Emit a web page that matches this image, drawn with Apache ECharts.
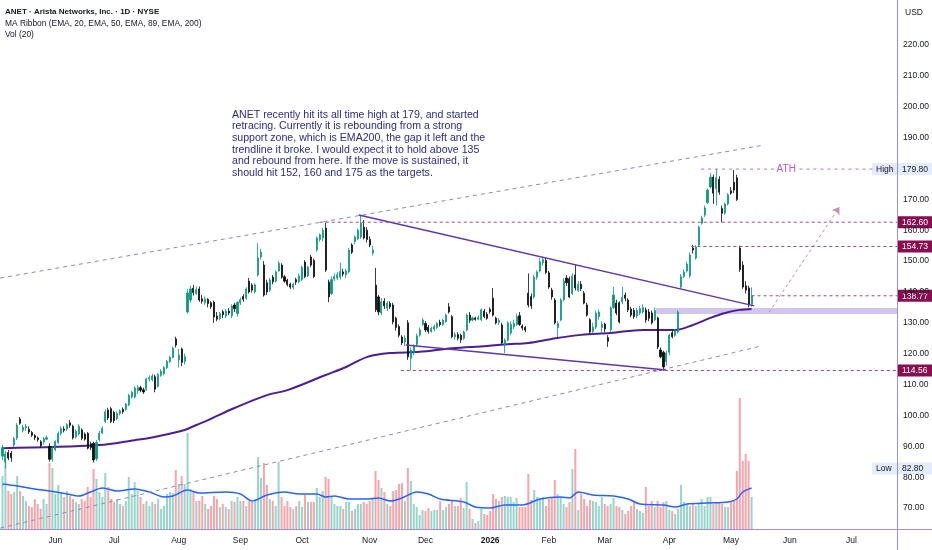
<!DOCTYPE html>
<html>
<head>
<meta charset="utf-8">
<style>
  html, body { margin: 0; padding: 0; background: #fff; }
  #main { width: 932px; height: 550px; }
</style>
</head>
<body>
<div id="main"></div>
<script src="https://cdn.jsdelivr.net/npm/echarts@6/dist/echarts.min.js"></script>
<script>
// ---- data ----
// daily candles from 2025-05-06, [open, close, low, high]
var candles = [
  [86.8,89.6,85.5,90.5],[85.0,87.5,82.8,88.5],[88.0,86.2,85.5,88.8],[87.8,86.3,85.0,88.5],[90.4,92.5,89.8,93.0],
  [92.7,96.8,92.0,97.5],[98.8,97.5,97.0,99.5],[95.2,96.2,94.5,97.0],[96.0,96.5,95.0,97.2],[95.5,94.6,94.0,96.5],
  [94.5,93.6,93.0,95.0],[93.5,92.8,92.0,94.0],[92.7,92.2,91.5,93.2],[91.5,90.2,89.5,92.0],[91.4,92.4,90.5,93.0],
  [92.3,92.8,92.0,93.5],[90.0,85.8,85.0,91.0],[85.8,89.3,85.0,90.0],[89.0,91.5,88.5,92.0],[91.2,94.2,90.8,94.8],
  [94.2,95.8,93.5,96.5],[95.6,95.2,94.5,96.5],[95.6,97.0,95.0,97.5],[97.6,96.8,96.0,98.5],[96.5,92.8,92.2,97.0],
  [93.0,94.8,92.5,95.5],[94.0,96.5,93.5,97.2],[95.3,92.6,92.0,95.8],[94.0,92.3,91.8,94.5],[94.2,89.4,89.0,94.6],
  [90.8,89.6,88.8,91.5],[91.0,85.6,84.8,91.5],[86.0,91.2,85.2,92.0],[92.2,94.2,91.5,95.0],[94.3,95.8,94.0,96.5],
  [98.0,101.2,97.5,102.0],[101.8,99.2,98.5,102.5],[102.2,98.0,97.5,102.8],[101.0,98.3,97.5,101.5],[99.0,100.6,98.5,101.3],
  [100.7,101.5,100.0,102.0],[102.0,101.2,100.5,102.6],[102.0,103.7,101.5,104.0],[103.4,106.5,103.0,107.0],[106.0,107.5,105.5,108.0],
  [106.0,108.9,105.5,109.5],[108.0,109.0,107.0,109.8],[109.0,108.2,107.5,109.6],[108.3,107.6,107.0,109.0],[108.5,111.8,108.0,112.3],
  [111.8,112.2,111.0,113.0],[111.6,112.8,111.0,113.5],[112.5,108.5,107.5,113.2],[109.5,113.2,109.0,113.7],[113.0,114.3,112.5,115.0],
  [113.5,115.5,113.0,116.0],[115.5,117.5,115.0,118.0],[117.5,118.8,117.0,119.3],[118.8,121.8,118.5,122.3],[124.8,122.8,122.0,125.5],
  [118.0,119.5,115.5,121.5],[121.5,117.2,116.0,122.0],[117.5,119.0,116.5,120.0],[133.5,139.7,133.0,141.0],[137.4,141.0,136.5,142.0],
  [141.2,139.8,138.8,142.3],[139.5,140.8,139.0,141.8],[141.0,137.4,136.8,141.8],[137.8,137.0,136.2,139.0],[136.5,137.8,135.8,138.5],
  [137.6,136.2,135.0,138.0],[136.5,135.2,134.5,137.0],[136.7,131.9,130.0,137.2],[132.2,131.2,130.5,133.5],[131.3,133.0,130.8,133.5],
  [133.6,132.6,131.5,134.2],[132.2,133.8,131.5,134.5],[133.8,133.2,132.5,134.8],[132.3,135.5,131.5,136.0],[135.8,134.6,133.5,136.5],
  [133.0,136.6,132.0,137.0],[136.5,137.5,135.8,138.2],[138.5,137.6,136.8,139.3],[138.0,141.0,137.5,141.5],[143.5,140.0,139.5,144.5],
  [142.2,140.6,139.8,142.8],[140.0,142.3,139.5,142.8],[145.5,151.0,145.0,155.8],[151.3,152.9,150.5,154.0],[148.7,139.0,138.5,150.0],
  [143.0,140.0,139.0,144.0],[140.6,143.9,140.0,144.5],[144.8,143.3,142.5,145.5],[143.5,146.5,143.0,147.0],[146.8,149.3,146.5,150.0],
  [148.7,144.8,144.3,149.3],[144.9,143.5,143.0,145.5],[143.8,142.4,141.8,144.3],[142.5,141.6,141.0,143.0],[141.5,142.5,140.8,143.0],
  [144.0,143.2,142.3,144.6],[143.3,145.2,142.8,146.0],[144.0,148.0,143.5,148.5],[149.7,145.0,144.5,150.3],[145.2,148.0,144.8,148.5],
  [151.3,148.7,148.0,152.0],[150.2,145.0,144.5,150.8],[153.6,157.5,153.0,158.0],[157.0,158.5,156.3,159.0],[157.5,160.0,156.5,160.8],
  [160.7,147.1,146.5,162.4],[143.2,138.4,136.7,144.0],[139.5,144.0,139.0,145.0],[144.2,145.0,143.5,146.0],[144.5,145.6,143.8,146.5],
  [144.8,146.6,144.0,149.5],[146.5,145.8,145.0,147.5],[145.6,146.8,144.5,147.5],[146.5,153.6,146.0,154.3],[155.2,152.9,152.3,155.8],
  [156.3,157.8,155.5,158.3],[157.2,160.0,156.8,160.5],[157.8,162.3,157.2,165.0],[161.0,157.5,157.0,163.3],[160.0,157.0,156.0,161.0],
  [157.0,155.2,154.5,158.0],[152.6,153.6,151.8,155.0],[142.2,134.2,133.5,147.8],[138.4,133.5,132.5,139.0],[133.2,136.8,132.5,138.0],
  [137.0,135.5,134.5,138.0],[134.8,136.4,133.8,137.0],[136.3,135.2,134.5,137.0],[135.8,130.3,129.5,136.5],[131.5,128.5,127.5,132.0],
  [128.8,126.0,125.3,129.5],[125.4,123.5,122.8,126.0],[123.8,125.0,122.5,126.0],[130.0,119.0,118.0,130.9],[118.5,121.2,114.56,122.0],
  [120.3,122.5,119.5,123.0],[123.0,125.8,122.5,126.5],[126.0,127.7,125.5,128.5],[129.5,130.9,129.0,131.5],[129.8,127.7,127.0,130.5],
  [128.6,127.2,126.5,129.3],[127.2,128.2,126.8,128.8],[128.0,128.8,127.2,129.5],[128.5,129.8,128.0,130.3],[130.2,129.4,128.8,131.0],
  [129.5,130.8,129.0,131.3],[130.4,132.5,130.0,133.0],[135.2,133.5,133.0,136.4],[132.0,125.5,125.0,132.5],[125.5,126.2,124.5,127.0],
  [126.2,125.0,124.3,127.0],[126.0,124.5,123.5,126.5],[125.0,127.0,124.5,127.5],[127.7,132.5,127.2,133.0],[132.5,130.8,130.0,133.5],
  [130.9,131.6,130.5,132.0],[131.6,131.1,130.7,132.0],[131.2,131.8,130.8,132.3],[131.0,134.2,130.5,134.7],[133.8,132.0,131.5,134.5],
  [132.8,131.5,131.0,133.5],[134.3,133.6,133.0,135.0],[138.0,132.5,132.0,141.3],[131.5,130.0,129.5,132.0],[130.2,130.8,129.3,131.5],
  [129.3,123.5,123.0,130.0],[122.8,124.4,120.2,125.0],[124.4,130.0,124.0,130.5],[126.7,129.5,126.0,130.5],[128.7,129.8,128.0,131.0],
  [129.5,132.0,129.0,133.0],[132.3,129.5,129.0,133.5],[129.0,128.3,127.5,129.5],[128.5,127.7,127.0,129.0],[139.6,135.8,135.0,146.0],
  [138.5,135.5,134.5,139.5],[138.4,144.8,137.8,145.5],[144.8,146.5,144.0,147.0],[146.8,149.8,146.3,151.0],[149.5,150.5,148.5,151.5],
  [150.2,146.3,145.8,151.0],[146.2,141.6,141.0,146.8],[140.6,138.4,137.5,141.3],[137.4,130.0,129.5,138.0],[128.5,129.8,125.4,130.5],
  [130.9,137.4,130.5,138.0],[137.5,143.5,137.0,144.5],[144.5,143.0,142.0,145.5],[144.3,138.4,138.0,145.0],[139.5,145.0,139.0,146.0],
  [145.5,141.3,140.5,148.7],[140.5,142.5,140.0,143.5],[142.5,141.0,140.3,143.5],[139.6,136.4,136.0,140.3],[135.8,132.5,132.0,136.5],
  [131.0,127.0,126.5,131.5],[127.2,128.6,126.5,130.0],[128.6,133.2,128.0,134.0],[132.0,133.5,131.0,134.3],[128.5,129.5,126.5,130.5],
  [129.6,128.0,127.0,130.0],[125.2,124.0,122.2,126.0],[127.7,134.8,127.0,135.3],[135.0,139.0,134.5,141.6],[136.4,133.2,132.5,137.5],
  [136.5,130.3,129.8,137.0],[136.8,138.2,136.0,141.6],[139.0,138.0,137.0,139.8],[137.4,134.2,133.5,138.0],[134.5,132.5,131.8,135.2],
  [134.0,132.0,131.3,134.8],[132.2,134.0,131.5,134.8],[133.2,134.6,132.5,135.5],[133.5,135.0,133.0,136.0],[134.2,130.9,130.0,135.0],
  [133.5,131.5,130.5,134.5],[133.2,130.0,129.5,134.0],[131.0,134.0,130.5,135.0],[131.6,122.2,121.5,132.0],[121.2,119.0,118.5,122.0],
  [120.5,115.7,114.6,121.0],[117.5,120.2,116.0,121.0],[120.5,126.0,119.5,126.5],[126.8,125.5,125.0,127.5],[126.0,127.5,125.5,128.0],
  [127.0,133.5,126.5,134.0],[141.6,145.0,141.0,145.8],[145.0,146.5,144.5,147.3],[146.8,149.0,146.3,149.8],[145.2,152.0,144.5,152.8],
  [154.2,153.6,152.5,155.3],[151.0,154.6,150.5,155.2],[155.2,161.0,154.7,161.5],[162.3,164.0,161.8,164.7],[164.9,167.2,164.3,168.0],
  [169.0,173.0,168.5,173.5],[174.0,177.2,173.5,178.5],[177.2,172.0,168.5,178.0],[173.5,177.0,168.0,179.8],[176.5,172.3,171.5,177.5],
  [167.0,165.5,162.6,168.0],[165.5,168.5,165.0,169.0],[168.5,171.5,168.0,172.0],[172.8,172.0,171.5,174.0],[175.5,173.0,172.0,179.5],
  [177.0,170.0,169.5,178.0],[154.2,147.3,146.5,155.0],[148.7,141.6,141.0,150.0],[142.0,140.6,139.5,143.5],[141.3,135.8,135.0,142.0],
  [136.0,138.77,135.2,141.5]
];

// daily volume, millions of shares
var volumes = [
  15.9,20.4,11.4,10.5,11.1,15.9,11.4,9.9,8.4,6.9,
  6.6,9.0,7.5,6.0,9.0,7.5,19.8,18.3,10.5,13.2,
  11.1,9.6,11.4,9.9,9.0,8.1,7.5,9.0,8.4,12.6,
  9.6,18.0,15.0,11.1,9.6,16.8,12.6,9.0,8.1,9.0,
  7.5,6.9,8.4,15.6,10.5,14.1,11.4,9.6,7.5,8.4,
  6.9,8.1,7.5,9.0,6.0,6.9,10.5,11.1,10.8,17.7,
  13.5,15.9,13.5,28.8,12.0,11.4,8.4,8.4,9.9,7.5,
  6.0,6.9,9.9,9.0,6.6,7.5,6.6,6.0,8.4,8.1,
  9.6,8.4,8.4,6.9,8.4,8.1,9.0,21.6,15.3,19.8,
  13.2,9.0,8.4,6.9,20.1,9.6,6.9,8.4,6.6,6.0,
  6.9,8.4,6.6,10.5,8.1,8.1,8.1,12.3,9.6,11.4,
  15.6,15.0,9.6,7.5,6.9,6.9,6.0,8.1,8.1,5.4,
  6.0,7.5,7.5,8.1,7.5,8.4,9.0,17.4,14.7,12.3,
  11.1,7.5,6.9,11.4,11.7,13.5,13.8,8.4,18.3,14.4,
  7.5,6.6,4.2,5.7,5.4,6.3,5.4,5.7,5.7,8.4,
  5.7,6.6,7.5,8.4,6.9,6.9,9.3,6.3,14.1,6.0,
  3.0,1.8,2.4,6.0,4.5,4.2,5.4,10.5,9.0,8.4,
  9.6,9.9,9.6,9.6,8.1,9.3,6.6,6.6,6.6,16.5,
  8.7,11.7,9.6,9.3,9.6,6.9,9.0,9.6,14.7,10.5,
  9.6,7.5,6.6,8.1,18.0,24.0,5.7,10.5,9.0,6.9,
  8.7,8.4,8.1,6.9,9.6,7.5,6.9,7.5,9.3,6.9,
  6.6,5.7,4.5,5.4,6.9,8.4,6.0,5.4,4.8,12.6,
  6.9,8.4,6.6,8.4,6.6,8.1,8.4,5.7,5.4,4.5,
  6.0,13.2,8.1,7.5,6.9,7.5,6.9,7.5,9.0,6.9,
  9.6,9.6,7.5,8.1,8.1,7.5,6.6,6.6,8.1,8.4,
  17.4,39.3,20.4,22.5,20.4,9.6
];

// EMA 200: [bar index, price]
var ema200 = [[0,89.4],[33,90.4],[45,92.0],[50,92.7],[58,94.3],[62,95.3],[66,96.9],[70,98.5],[79,102.4],
  [90,106.6],[97,108.2],[110,113.1],[117,115.7],[124,118.9],[132,120.2],[142,120.6],[153,121.8],[165,122.5],
  [172,123.1],[179,123.5],[187,124.8],[197,126.1],[207,126.7],[218,127.7],[229,127.7],[235,129.3],[241,131.6],
  [246,133.2],[251,134.2],[255,134.5]];

// Volume 20-day average: [bar index, millions]
var volMa = [[0,13.5],[5,12.9],[11,12.0],[16,11.4],[22,10.5],[26,9.9],[30,11.1],[34,12.3],[39,11.4],[45,12.0],
  [50,11.1],[55,9.6],[58,9.9],[63,11.7],[67,10.8],[76,11.1],[81,10.5],[85,8.4],[90,10.2],[96,11.1],[101,10.5],
  [107,10.5],[110,9.6],[113,9.9],[118,9.0],[124,9.0],[128,9.3],[132,8.4],[136,9.3],[141,11.1],[145,10.5],
  [149,9.0],[157,8.1],[161,6.6],[166,6.3],[171,7.2],[177,7.2],[183,9.0],[190,9.6],[193,9.3],[196,11.1],
  [201,10.2],[208,9.9],[213,9.0],[217,7.5],[225,7.2],[229,6.6],[233,7.5],[240,7.8],[247,8.1],[250,9.0],
  [252,11.1],[255,12.3]];

// drawings: [bar index, price]
var upperChannel = [[-0.8,144.5],[259.3,187.6]];
var lowerChannel = [[-0.8,63.5],[258.3,122.5]];
var upperTrend = [[121.3,164.9],[255.9,135.5]];
var lowerTrend = [[137.3,122.8],[225.9,114.7]];
var projection = [[261,133.5],[284.9,167.5]];
var gapZone = [222.5, 132.9, 134.8];          // start index, low, high
var levelPrices = [162.60, 154.73, 138.77, 114.56];
var levelStarts = [108, 234.5, 255, 135.6];
var athPrice = 179.80, athStart = 237.8, athLabelAt = 266.8;
var lowPrice = 82.80;

var noteLines = [
  'ANET recently hit its all time high at 179, and started',
  'retracing. Currently it is rebounding from a strong',
  'support zone, which is EMA200, the gap it left and the',
  'trendline it broke. I would expect it to hold above 135',
  'and rebound from here. If the move is sustained, it',
  'should hit 152, 160 and 175 as the targets.'
];

// ---- trading day categories ----
var holidays = ['2025-05-26','2025-06-19','2025-07-04','2025-09-01','2025-11-27','2025-12-25',
  '2026-01-01','2026-01-19','2026-02-16','2026-04-03','2026-05-25','2026-06-19','2026-07-03'];
var barCount = 305;
var dates = [];
var d = new Date(Date.UTC(2025, 4, 6));
while (dates.length < barCount) {
  var wd = d.getUTCDay();
  var s = d.toISOString().slice(0, 10);
  if (wd !== 0 && wd !== 6 && holidays.indexOf(s) < 0) dates.push(s);
  d.setUTCDate(d.getUTCDate() + 1);
}
var monthNames = ['Jan','Feb','Mar','Apr','May','Jun','Jul','Aug','Sep','Oct','Nov','Dec'];

var font = '"Liberation Sans", Arial, sans-serif';
var upColor = '#089981', downColor = '#0a0a0a';
var lastX = barCount - 0.5;

function seg(points, color, dash, width) {
  return {
    type: 'line', xAxisIndex: 2, yAxisIndex: 0, data: points, symbol: 'none', silent: true,
    lineStyle: { color: color, type: dash, width: width }, z: 6
  };
}

var series = [
  {
    type: 'bar', xAxisIndex: 1, yAxisIndex: 1, barWidth: 2, z: 1, silent: true,
    data: volumes.map(function (v, i) {
      var c = candles[i];
      return { value: v, itemStyle: { color: c[1] >= c[0] ? 'rgba(8,153,129,0.42)' : 'rgba(242,54,69,0.45)' } };
    })
  },
  {
    type: 'line', xAxisIndex: 1, yAxisIndex: 1, data: volMa, smooth: 0.3, symbol: 'none', z: 2,
    lineStyle: { color: '#2962ff', width: 1.5 }
  },
  {
    type: 'candlestick', xAxisIndex: 0, yAxisIndex: 0, data: candles, barWidth: 1.6, z: 5,
    itemStyle: { color: upColor, color0: downColor, borderColor: upColor, borderColor0: downColor, borderWidth: 0.8 }
  },
  {
    type: 'line', xAxisIndex: 2, yAxisIndex: 0, data: ema200, smooth: 0.35, symbol: 'none', z: 4,
    lineStyle: { color: '#4b1d96', width: 2 }
  },
  seg(upperChannel, '#8d8bb8', [4, 4], 1),
  seg(lowerChannel, '#8d8bb8', [4, 4], 1),
  seg(upperTrend, '#5e35b1', 'solid', 1.5),
  seg(lowerTrend, '#5e35b1', 'solid', 1.5),
  seg([[athStart, athPrice], [athLabelAt - 4, athPrice]], '#bf6ec6', [3, 4], 1),
  seg([[athLabelAt + 4.5, athPrice], [lastX, athPrice]], '#bf6ec6', [3, 4], 1),
  {
    type: 'line', xAxisIndex: 2, yAxisIndex: 0, data: [], z: 3, silent: true,
    markArea: {
      silent: true, itemStyle: { color: 'rgba(170,150,222,0.55)' },
      data: [[{ coord: [gapZone[0], gapZone[2]] }, { coord: [lastX, gapZone[1]] }]]
    },
    markLine: {
      silent: true, symbol: ['none', 'arrow'], symbolSize: 7, animation: false,
      lineStyle: { color: '#c48ab6', type: [3, 3], width: 1 }, label: { show: false },
      data: [[{ coord: projection[0] }, { coord: projection[1] }]]
    }
  }
];
levelPrices.forEach(function (p, k) {
  series.push(seg([[levelStarts[k], p], [lastX, p]], '#b04575', [3, 3], 1));
});

var option = {
  animation: false,
  backgroundColor: '#ffffff',
  grid: [
    { left: 1, right: 35, top: 14.13, bottom: 11.07, outerBoundsMode: 'none' },
    { left: 1, right: 35, top: 379, bottom: 21, outerBoundsMode: 'none' }
  ],
  xAxis: [
    { type: 'category', gridIndex: 0, data: dates, show: false },
    {
      type: 'category', gridIndex: 1, data: dates,
      axisLine: { show: false }, axisTick: { show: false }, splitLine: { show: false },
      axisLabel: {
        color: '#131722', fontSize: 8.5, fontFamily: font, margin: 7,
        interval: function (i, v) { return i > 0 && v.slice(5, 7) !== dates[i - 1].slice(5, 7); },
        formatter: function (v) {
          var m = +v.slice(5, 7);
          return m === 1 ? '{b|' + v.slice(0, 4) + '}' : monthNames[m - 1];
        },
        rich: { b: { fontWeight: 'bold', fontSize: 8.5, fontFamily: font, color: '#131722' } }
      }
    },
    { type: 'value', gridIndex: 0, min: -0.5, max: lastX, show: false }
  ],
  yAxis: [
    {
      type: 'value', gridIndex: 0, position: 'right', min: 60, max: 230, interval: 10,
      splitLine: { show: false }, axisLine: { show: false }, axisTick: { show: false },
      axisLabel: {
        color: '#131722', fontSize: 8.5, fontFamily: font, margin: 6,
        formatter: function (v) {
          if (v <= 60 || v >= 230 || Math.abs(v - athPrice) < 1) return '';
          return v.toFixed(2);
        }
      }
    },
    { type: 'value', gridIndex: 1, min: 0, max: 45, show: false }
  ],
  series: series
};

var chart = echarts.init(document.getElementById('main'));
chart.setOption(option);

// ---- overlays positioned through the chart's own scales ----
function py(p) { return chart.convertToPixel({ yAxisIndex: 0 }, p); }
function px(i) { return chart.convertToPixel({ xAxisIndex: 2 }, i); }

function tag(price, text, bg, fg) {
  var y = py(price);
  return {
    type: 'group', x: 898, y: y - 6, z: 100,
    children: [
      { type: 'rect', shape: { x: 0, y: 0, width: 34, height: 12 }, style: { fill: bg } },
      { type: 'text', x: 4, y: 6.5, style: { text: text, fill: fg, font: '8.5px ' + font, verticalAlign: 'middle' } }
    ]
  };
}
function sideTag(price, text) {
  var y = py(price);
  return {
    type: 'group', x: 872, y: y - 6, z: 100,
    children: [
      { type: 'rect', shape: { x: 0, y: 0, width: 25, height: 12 }, style: { fill: '#e3ecfb' } },
      { type: 'text', x: 4, y: 6.5, style: { text: text, fill: '#131722', font: '8.5px ' + font, verticalAlign: 'middle' } }
    ]
  };
}

var graphics = [
  { type: 'line', z: 90, shape: { x1: 897.5, y1: 0, x2: 897.5, y2: 550 }, style: { stroke: '#9a90d2', lineWidth: 1 } },
  { type: 'line', z: 90, shape: { x1: 0, y1: 529.5, x2: 932, y2: 529.5 }, style: { stroke: '#9a90d2', lineWidth: 1 } },
  { type: 'text', left: 5, top: 8, z: 100, style: { text: 'ANET · Arista Networks, Inc. · 1D · NYSE', fill: '#131722', font: 'bold 8px ' + font } },
  { type: 'text', left: 5, top: 20, z: 100, style: { text: 'MA Ribbon (EMA, 20, EMA, 50, EMA, 89, EMA, 200)', fill: '#131722', font: '8.4px ' + font } },
  { type: 'text', left: 5, top: 31, z: 100, style: { text: 'Vol (20)', fill: '#131722', font: '8.4px ' + font } },
  { type: 'text', left: 905, top: 8, z: 100, style: { text: 'USD', fill: '#131722', font: '8.5px ' + font } },
  { type: 'text', left: 232, top: 109, z: 100, style: { text: noteLines.join('\n'), fill: '#2c2a8c', font: '10.6px ' + font, lineHeight: 11.6 } },
  { type: 'text', x: px(athLabelAt), y: py(athPrice), z: 100, style: { text: 'ATH', fill: '#b45cc0', font: '10px ' + font, align: 'center', verticalAlign: 'middle' } },
  sideTag(athPrice, 'High'),
  tag(athPrice, athPrice.toFixed(2), '#e3ecfb', '#131722'),
  sideTag(lowPrice, 'Low'),
  tag(lowPrice, lowPrice.toFixed(2), '#e3ecfb', '#131722')
];
levelPrices.forEach(function (p) { graphics.push(tag(p, p.toFixed(2), '#880e4f', '#ffffff')); });

chart.setOption({ graphic: graphics });
</script>
</body>
</html>
